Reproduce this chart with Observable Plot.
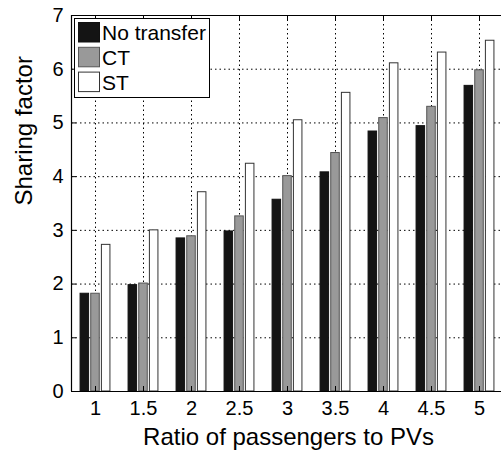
<!DOCTYPE html>
<html>
<head>
<meta charset="utf-8">
<script src="https://cdn.jsdelivr.net/npm/d3@7"></script>
<script src="https://cdn.jsdelivr.net/npm/@observablehq/plot@0.6"></script>
<style>
  html, body { margin: 0; padding: 0; background: white; }
  #chart { width: 501px; height: 450px; position: relative; }
</style>
</head>
<body>
<div id="chart"></div>
<script>
const ratios = [1, 1.5, 2, 2.5, 3, 3.5, 4, 4.5, 5];
const noTransfer = [1.82, 1.98, 2.85, 2.98, 3.57, 4.08, 4.84, 4.94, 5.69];
const ct = [1.82, 2.01, 2.89, 3.26, 4.01, 4.44, 5.09, 5.30, 5.98];
const st = [2.73, 3.00, 3.71, 4.24, 5.05, 5.56, 6.11, 6.31, 6.53];
const seriesNames = ["No transfer", "CT", "ST"];
const seriesValues = [noTransfer, ct, st];
const yTicks = [0, 1, 2, 3, 4, 5, 6, 7];
const yGridTicks = [1, 2, 3, 4, 5, 6];
const xTitle = "Ratio of passengers to PVs";
const yTitle = "Sharing factor";

const fills = {"No transfer": "#141414", "CT": "#999999", "ST": "#ffffff"};
const strokes = {"No transfer": "#111111", "CT": "#555555", "ST": "#333333"};

// grouped bar geometry (MATLAB-like): group spacing 0.5 -> bar slot 0.1111, bar width 0.8 of slot
const slot = 0.5 * (2 / 3) / 3;
const barW = slot * 0.8;

const rows = [];
seriesNames.forEach((s, i) => {
  ratios.forEach((r, j) => {
    rows.push({ratio: r, series: s, idx: i, value: seriesValues[i][j]});
  });
});

const font = "'Liberation Sans', Arial, Helvetica, sans-serif";
const dash = {stroke: "black", strokeOpacity: 1, strokeWidth: 1, strokeDasharray: "1.5,3"};

const chart = Plot.plot({
  width: 501,
  height: 450,
  marginLeft: 71,
  marginRight: 0,
  marginTop: 15,
  marginBottom: 59,
  style: {fontFamily: font, fontSize: "20px", color: "black", background: "white", overflow: "visible"},
  x: {type: "linear", domain: [0.75, 0.75 + 430 / 96]},
  y: {domain: [0, 7]},
  marks: [
    Plot.gridY(yGridTicks, dash),
    Plot.gridX(ratios, dash),
    Plot.rectY(rows, {
      x1: d => d.ratio + (d.idx - 1) * slot - barW / 2,
      x2: d => d.ratio + (d.idx - 1) * slot + barW / 2,
      y1: 0,
      y2: "value",
      fill: d => fills[d.series],
      stroke: d => strokes[d.series],
      strokeWidth: 1
    }),
    Plot.ruleY([yTicks[0]], {stroke: "black", strokeWidth: 1.2}),
    Plot.ruleY([yTicks[yTicks.length - 1]], {stroke: "black", strokeWidth: 1.2}),
    Plot.ruleX([0.75], {stroke: "black", strokeWidth: 1.2}),
    Plot.axisY(yTicks, {anchor: "left", tickSize: 5, dx: 5, fill: "none", label: null}),
    Plot.axisY(yTicks, {anchor: "left", tickSize: 0, tickPadding: 8, label: null, fontSize: 20, tickFormat: d => String(d)}),
    Plot.axisX(ratios, {anchor: "top", tickSize: 5, dy: 5, fill: "none", label: null}),
    Plot.axisX(ratios, {anchor: "bottom", tickSize: 5, dy: -5, fill: "none", label: null}),
    Plot.axisX(ratios, {anchor: "bottom", tickSize: 0, tickPadding: 9, label: null, fontSize: 20, tickFormat: d => String(d)}),
    Plot.text([xTitle], {frameAnchor: "bottom", dy: 53, dx: 2, lineAnchor: "bottom", fontSize: 24}),
    Plot.text([yTitle], {frameAnchor: "left", dx: -47, dy: 2, rotate: -90, lineAnchor: "middle", fontSize: 24})
  ]
});

document.getElementById("chart").appendChild(chart);

// Legend (drawn inside the plot's SVG, MATLAB style box)
const svg = d3.select(chart.tagName.toLowerCase() === "svg" ? chart : chart.querySelector("svg"));
const lg = svg.append("g").attr("font-family", font).attr("font-size", 21).attr("text-anchor", "start");
lg.append("rect").attr("x", 74.5).attr("y", 18.5).attr("width", 135).attr("height", 79)
  .attr("fill", "white").attr("stroke", "black").attr("stroke-width", 1);
seriesNames.forEach((s, i) => {
  const y0 = 22.5 + i * 24.8;
  lg.append("rect").attr("x", 78.5).attr("y", y0).attr("width", 21).attr("height", 19.5)
    .attr("fill", fills[s]).attr("stroke", strokes[s]).attr("stroke-width", 1);
  lg.append("text").attr("x", 102).attr("y", y0 + 17.5).attr("text-anchor", "start").attr("fill", "black").text(s);
});
</script>
</body>
</html>
